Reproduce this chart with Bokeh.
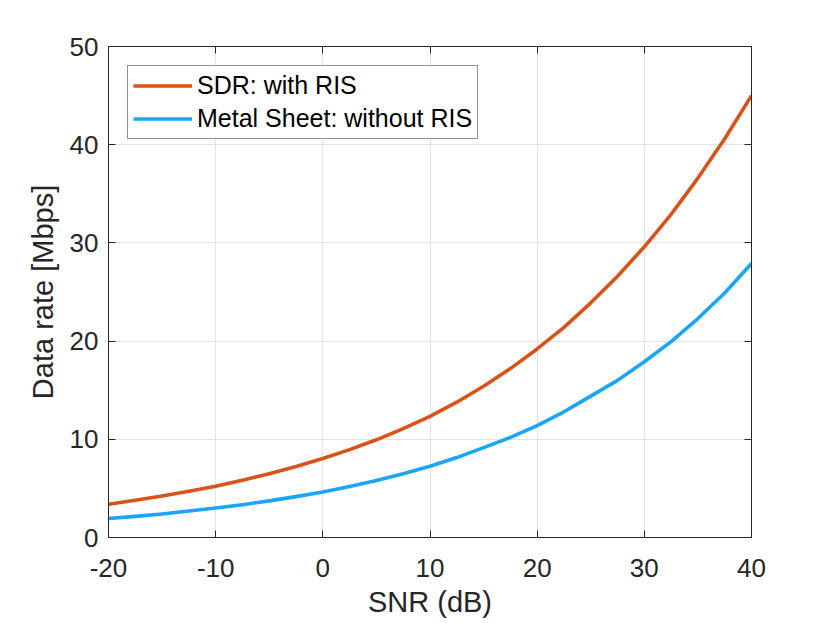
from bokeh.plotting import figure
from bokeh.models import (LinearAxis, Range1d, FixedTicker, Legend, LegendItem,
                          CustomJSTickFormatter)
from bokeh.embed import file_html
from bokeh.resources import INLINE

# Data
snr_db = [-20, -17.5, -15, -12.5, -10, -7.5, -5, -2.5, 0, 2.5, 5, 7.5, 10,
          12.5, 15, 17.5, 20, 22.5, 25, 27.5, 30, 32.5, 35, 37.5, 40]
rate_with_ris = [3.39, 3.79, 4.23, 4.70, 5.22, 5.83, 6.50, 7.23, 8.04, 8.95,
                 9.95, 11.08, 12.34, 13.78, 15.4, 17.2, 19.2, 21.4, 23.9,
                 26.6, 29.6, 32.9, 36.6, 40.6, 45.0]
rate_without_ris = [1.93, 2.15, 2.40, 2.69, 3.00, 3.34, 3.73, 4.16, 4.64, 5.19,
                    5.80, 6.49, 7.25, 8.14, 9.15, 10.2, 11.4, 12.8, 14.4,
                    16.0, 17.9, 19.95, 22.3, 24.9, 27.9]
x_ticks = [-20, -10, 0, 10, 20, 30, 40]
y_ticks = [0, 10, 20, 30, 40, 50]
label_with = "SDR: with RIS"
label_without = "Metal Sheet: without RIS"
x_label = "SNR (dB)"
y_label = "Data rate [Mbps]"

FONT = "Liberation Sans"
DARK = "#262626"

p = figure(width=828, height=620, output_backend="svg", toolbar_location=None,
           x_range=Range1d(-20, 40), y_range=Range1d(0, 50),
           min_border_left=108, min_border_right=77, min_border_top=46,
           min_border_bottom=83)
p.background_fill_color = "white"
p.border_fill_color = "white"
p.outline_line_color = DARK
p.outline_line_width = 1

r1 = p.line(snr_db, rate_with_ris, line_color="#D95319", line_width=3.6,
            line_join="round")
r2 = p.line(snr_db, rate_without_ris, line_color="#1AA5FA", line_width=3.6,
            line_join="round")

fmt = CustomJSTickFormatter(code="return tick.toString();")
for ax, ticks in ((p.xaxis[0], x_ticks), (p.yaxis[0], y_ticks)):
    ax.ticker = FixedTicker(ticks=ticks)
    ax.formatter = fmt
    ax.major_tick_in = 7
    ax.major_tick_out = 0
    ax.minor_tick_line_color = None
    ax.axis_line_color = DARK
    ax.major_tick_line_color = DARK
    ax.major_label_text_font = FONT
    ax.major_label_text_font_size = "26px"
    ax.major_label_text_color = DARK
    ax.axis_label_text_font = FONT
    ax.axis_label_text_font_size = "29px"
    ax.axis_label_text_font_style = "normal"
    ax.axis_label_text_color = DARK

p.xaxis[0].axis_label = x_label
p.yaxis[0].axis_label = y_label
p.xaxis[0].major_label_standoff = 21
p.xaxis[0].axis_label_standoff = 6
p.yaxis[0].major_label_standoff = 10
p.yaxis[0].axis_label_standoff = 8

# mirrored ticks on top and right (box)
top = LinearAxis(ticker=FixedTicker(ticks=x_ticks))
right = LinearAxis(ticker=FixedTicker(ticks=y_ticks))
for ax in (top, right):
    ax.major_tick_in = 7
    ax.major_tick_out = 0
    ax.minor_tick_line_color = None
    ax.axis_line_color = DARK
    ax.major_tick_line_color = DARK
    ax.major_label_text_font_size = "0px"
    ax.major_label_text_color = None
p.add_layout(top, "above")
p.add_layout(right, "right")

p.xgrid.ticker = FixedTicker(ticks=x_ticks)
p.ygrid.ticker = FixedTicker(ticks=y_ticks)
p.grid.grid_line_color = "#E3E3E3"
p.grid.grid_line_width = 1

legend = Legend(items=[LegendItem(label=label_with, renderers=[r1]),
                       LegendItem(label=label_without, renderers=[r2])],
                location="top_left")
legend.margin = 19
legend.padding = 5
legend.spacing = 4
legend.glyph_width = 59
legend.glyph_height = 29
legend.label_standoff = 5
legend.label_height = 29
legend.label_text_font = FONT
legend.label_text_font_size = "25px"
legend.label_text_color = "black"
legend.border_line_color = DARK
legend.border_line_width = 1
legend.background_fill_color = "white"
legend.background_fill_alpha = 1
p.add_layout(legend)

open("out.html", "w").write(file_html(p, INLINE))
